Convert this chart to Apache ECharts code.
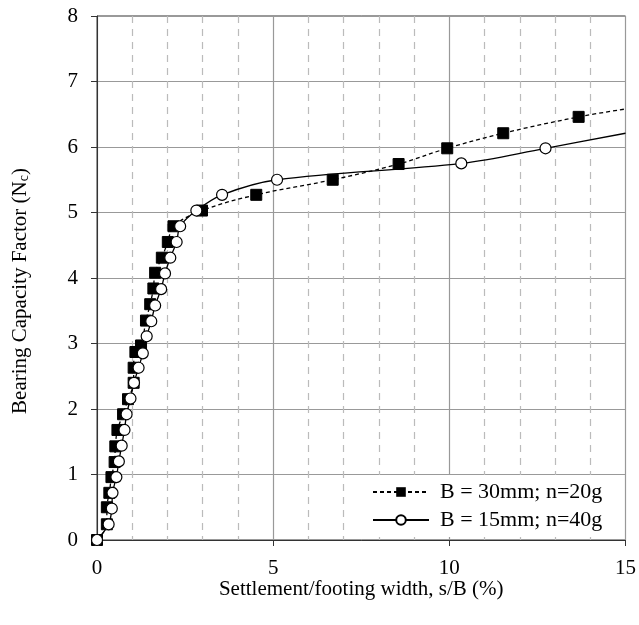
<!DOCTYPE html>
<html>
<head>
<meta charset="utf-8">
<script src="https://cdn.jsdelivr.net/npm/echarts@6/dist/echarts.min.js"></script>
<style>
  html, body { margin: 0; padding: 0; background: #fff; }
  #main { width: 639px; height: 625px; }
</style>
</head>
<body>
<div id="main"></div>
<script>
// B = 30mm; n=20g (filled squares, dashed line)
var x30 = [0, 0.28, 0.28, 0.35, 0.41, 0.50, 0.52, 0.58, 0.74, 0.88, 1.04, 1.04, 1.09, 1.25, 1.39, 1.51, 1.60, 1.65, 1.84, 2.01, 2.17, 2.98, 4.52, 6.69, 8.56, 9.94, 11.53, 13.67];
var y30 = [0, 0.24, 0.50, 0.72, 0.96, 1.19, 1.43, 1.68, 1.92, 2.15, 2.40, 2.63, 2.87, 2.97, 3.35, 3.60, 3.84, 4.08, 4.31, 4.55, 4.79, 5.03, 5.27, 5.50, 5.74, 5.98, 6.21, 6.46];
var end30 = [15, 6.58];

// B = 15mm; n=40g (open circles, solid line)
var x15 = [0, 0.33, 0.42, 0.44, 0.55, 0.62, 0.70, 0.78, 0.84, 0.95, 1.05, 1.18, 1.30, 1.41, 1.54, 1.65, 1.82, 1.93, 2.08, 2.26, 2.36, 2.82, 3.55, 5.11, 10.34, 12.73];
var y15 = [0, 0.24, 0.48, 0.72, 0.96, 1.20, 1.44, 1.68, 1.92, 2.16, 2.40, 2.63, 2.85, 3.11, 3.34, 3.58, 3.83, 4.07, 4.31, 4.55, 4.79, 5.03, 5.27, 5.50, 5.75, 5.98];
var end15 = [15, 6.21];

var xTicks = [0, 5, 10, 15];
var yTicks = [0, 1, 2, 3, 4, 5, 6, 7, 8];

function toData(xs, ys, end) {
  var d = xs.map(function (x, i) { return [x, ys[i]]; });
  d.push({ value: end, symbol: "none" });
  return d;
}

var font = "Liberation Serif";
var chart = echarts.init(document.getElementById("main"));
chart.setOption({
  animation: false,
  grid: {
    left: 97,
    right: 13,
    top: 16,
    bottom: 85,
    show: true,
    borderColor: "#333",
    borderWidth: 1
  },
  legend: {
    orient: "vertical",
    left: 366,
    top: 475,
    padding: [6, 6, 6, 6],
    backgroundColor: "#fff",
    itemWidth: 56,
    itemHeight: 12,
    itemGap: 6,
    textStyle: { fontFamily: font, fontSize: 22, color: "#000", padding: [0, 0, 0, 6] },
    data: ["B = 30mm; n=20g", "B = 15mm; n=40g"]
  },
  xAxis: {
    type: "value",
    min: xTicks[0],
    max: xTicks[xTicks.length - 1],
    interval: 5,
    name: "Settlement/footing width, s/B (%)",
    nameLocation: "middle",
    nameGap: 39,
    nameMoveOverlap: false,
    nameTextStyle: { fontFamily: font, fontSize: 21, color: "#000" },
    axisLine: { lineStyle: { color: "#333", width: 1 } },
    axisTick: { length: 6, lineStyle: { color: "#333" } },
    axisLabel: { fontFamily: font, fontSize: 21, color: "#000", margin: 18 },
    splitLine: { show: true, lineStyle: { color: "#999", width: 1.2 } },
    minorTick: { show: false, splitNumber: 5 },
    minorSplitLine: { show: true, lineStyle: { color: "#bbb", width: 1.2, type: [7, 6] } }
  },
  yAxis: {
    type: "value",
    min: yTicks[0],
    max: yTicks[yTicks.length - 1],
    interval: 1,
    name: "Bearing Capacity Factor (N{sub|c})",
    nameLocation: "middle",
    nameGap: 66,
    nameMoveOverlap: false,
    nameTextStyle: {
      fontFamily: font, fontSize: 21, color: "#000",
      padding: [0, 26, 0, 0],
      rich: { sub: { fontFamily: font, fontSize: 14, color: "#000", padding: [8, 0, 0, 0] } }
    },
    axisLine: { lineStyle: { color: "#333", width: 1 } },
    axisTick: { length: 6, lineStyle: { color: "#333" } },
    axisLabel: { fontFamily: font, fontSize: 21, color: "#000", margin: 19 },
    splitLine: { show: true, lineStyle: { color: "#999", width: 1.2 } }
  },
  series: [
    {
      name: "B = 30mm; n=20g",
      type: "line",
      smooth: 0.35,
      symbol: "rect",
      symbolSize: 11,
      data: toData(x30, y30, end30),
      lineStyle: { color: "#000", width: 1.3, type: [4, 3] },
      itemStyle: { color: "#000", borderColor: "#000" },
      z: 3
    },
    {
      name: "B = 15mm; n=40g",
      type: "line",
      smooth: 0.35,
      symbol: "circle",
      symbolSize: 11,
      data: toData(x15, y15, end15),
      lineStyle: { color: "#000", width: 1.3 },
      itemStyle: { color: "#fff", borderColor: "#000", borderWidth: 1.2 },
      z: 4
    }
  ]
});
</script>
</body>
</html>
